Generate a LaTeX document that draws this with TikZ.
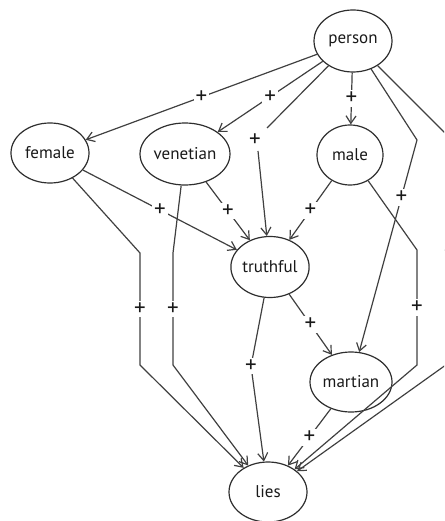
\documentclass[tikz,border=0pt]{standalone}
\usepackage{fontspec}
\setmainfont{PT Sans}
\usetikzlibrary{arrows.meta,shapes.geometric}
\begin{document}
\begin{tikzpicture}[x=1pt,y=-1pt,
  concept/.style={draw=black!82, line width=1.2pt, ellipse, inner sep=0pt,
    minimum height=60pt, font=\fontsize{17}{20}\selectfont, text=black!90},
  link/.style={draw=black!75, line width=1.2pt,
    -{Straight Barb[length=7.5pt,width=10pt,line width=1.2pt]}},
  sign/.style={fill=white, inner sep=2pt, text=black!90,
    font=\fontsize{23}{23}\selectfont}]
\useasboundingbox (0,0) rectangle (444,521);
\clip (0,0) rectangle (444,521);

% concepts
\node[concept, minimum width=78pt, minimum height=62pt] (person)   at (353,41)  {person};
\node[concept, minimum width=78pt]                      (female)   at (50,153)  {female};
\node[concept, minimum width=90pt, minimum height=62pt] (venetian) at (185,154) {venetian};
\node[concept, minimum width=66pt]                      (male)     at (350,155) {male};
\node[concept, minimum width=78pt, minimum height=61pt] (truthful) at (270,267) {truthful};
\node[concept, minimum width=82pt]                      (martian)  at (351,382) {martian};
\node[concept, minimum width=78pt]                      (lies)     at (268,492) {lies};

% bend points
\coordinate (c3a) at (267,128);
\coordinate (c3b) at (258,151);
\coordinate (c5)  at (417,140);
\coordinate (c6a) at (450,138);
\coordinate (c6b) at (450,362);
\coordinate (c7a) at (417,250);
\coordinate (c7b) at (417,365);
\coordinate (c8a) at (140,253);
\coordinate (c8b) at (140,365);
\coordinate (c9a) at (173,253);
\coordinate (c9b) at (173,365);
\coordinate (c13) at (251,366);

% influences from person
\draw[link] (person) -- node[sign] (s1) {+} (female);
\draw[link] (person) -- node[sign] (s2) {+} (venetian);
\draw[link] (person) -- (c3a) (c3b) -- (truthful);
\node[sign] (s3) at (255,140) {+};
\draw[link] (person) -- node[sign] (s4) {+} (male);
\draw[link] (person) -- (c5) -- node[sign, pos=.27] (s5) {+} (martian);
\draw[link] (person) -- (c6a) -- node[sign, pos=.51] (s6) {+} (c6b) -- (lies);

% influences on truthful
\draw[link] (female)   -- node[sign] (s10) {+} (truthful);
\draw[link] (venetian) -- node[sign] (s11) {+} (truthful);
\draw[link] (male)     -- node[sign] (s12) {+} (truthful);

% influences on lies
\draw[link] (male)     -- (c7a) -- node[sign] (s7) {+} (c7b) -- (lies);
\draw[link] (female)   -- (c8a) -- node[sign] (s8) {+} (c8b) -- (lies);
\draw[link] (venetian) -- (c9a) -- node[sign] (s9) {+} (c9b) -- (lies);
\draw[link] (truthful) -- (c13) node[sign] (s13) {+} -- (lies);
\draw[link] (truthful) -- node[sign] (s14) {+} (martian);
\draw[link] (martian)  -- node[sign] (s15) {+} (lies);
\end{tikzpicture}
\end{document}
